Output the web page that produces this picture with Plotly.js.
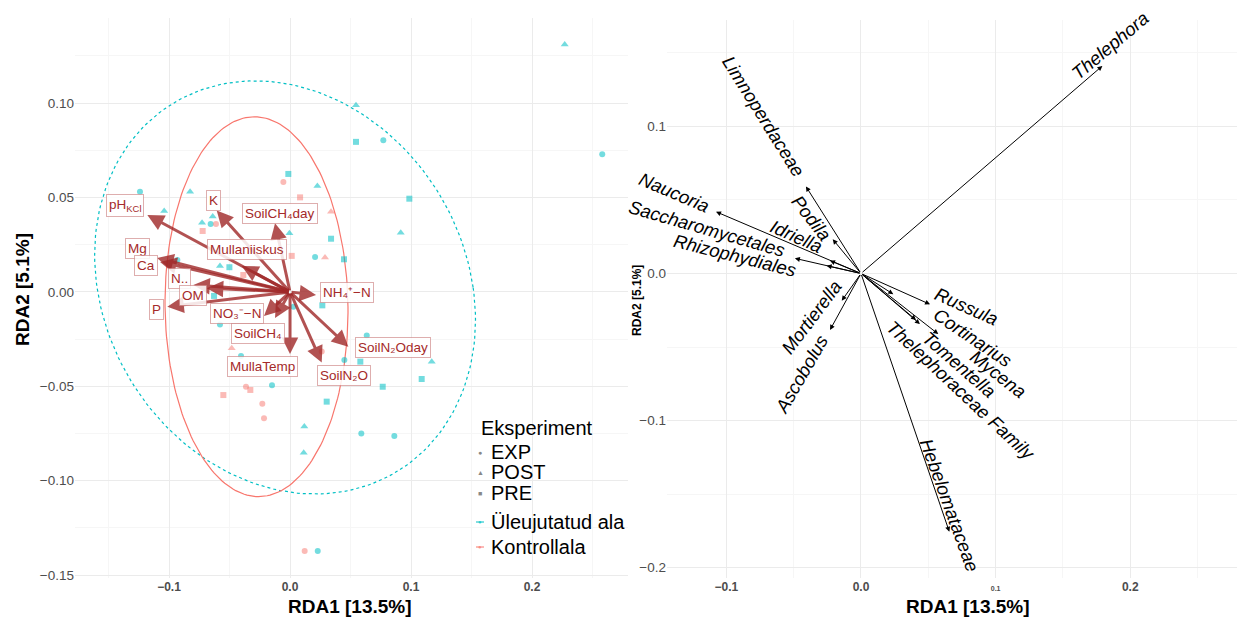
<!DOCTYPE html>
<html><head><meta charset="utf-8">
<script src="https://cdn.plot.ly/plotly-3.0.1.min.js"></script>
<style>html,body{margin:0;padding:0;background:#fff}#chart{width:1239px;height:621px}</style>
</head><body><div id="chart"></div>
<script>
// ---------------- Left panel: site scores ----------------
const siteRDA1 = [0.227,0.258,0.0545,0.0545,0.0771,-0.0014,0.0226,0.0986,-0.0005,0.0915,0.0339,0.0207,0.0446,0.0267,0.0028,-0.124,-0.0826,-0.104,-0.0639,-0.0727,-0.0656,-0.0579,-0.0501,-0.0628,0.0634,-0.0931,-0.0579,-0.0405,0.0449,0.0581,0.1171,0.1088,0.0766,-0.0149,0.0303,0.0118,0.0589,0.0862,0.0113,0.0229,
  -0.0055,0.0083,0.0339,0.0014,0.0289,-0.0612,-0.0722,-0.0386,-0.0482,0.0262,-0.0364,-0.0328,-0.0551,-0.0229,-0.0215,0.0121];
const siteRDA2 = [0.131,0.073,0.0989,0.0795,0.0803,0.0625,0.0561,0.0494,0.0311,0.0314,0.0282,0.0185,0.0173,-0.0071,-0.0078,0.0531,0.0531,0.0429,0.0399,0.0367,0.036,0.0138,0.0131,-0.0021,-0.0231,0.0169,-0.0173,-0.0339,-0.036,-0.0369,-0.0369,-0.0461,-0.0502,-0.0494,-0.0581,-0.0713,-0.075,-0.0763,-0.0851,-0.1372,
  0.0583,0.0501,0.0425,0.0191,0.0182,0.036,0.0323,0.009,-0.0298,-0.0316,-0.0502,-0.0519,-0.0546,-0.0592,-0.0669,-0.1372];
const siteArea = ['Ü','Ü','Ü','Ü','Ü','Ü','Ü','Ü','Ü','Ü','Ü','Ü','Ü','Ü','Ü','Ü','Ü','Ü','Ü','Ü','Ü','Ü','Ü','Ü','Ü','Ü','Ü','Ü','Ü','Ü','Ü','Ü','Ü','Ü','Ü','Ü','Ü','Ü','Ü','Ü',
  'K','K','K','K','K','K','K','K','K','K','K','K','K','K','K','K'];
const siteExp = ['POST','EXP','POST','PRE','EXP','PRE','POST','PRE','POST','POST','PRE','EXP','PRE','PRE','EXP','EXP','POST','POST','POST','POST','EXP','POST','PRE','PRE','EXP','EXP','EXP','EXP','EXP','PRE','POST','PRE','PRE','EXP','PRE','POST','EXP','EXP','POST','EXP',
  'EXP','PRE','POST','PRE','POST','EXP','PRE','PRE','POST','EXP','EXP','PRE','PRE','EXP','EXP','EXP'];

// ellipses (centre, half-width, shear, half-height)
const ellArea  = ['Ü','K'];
const ellCx    = [-0.0041,-0.0277];
const ellCy    = [0.0024,-0.0078];
const ellRx    = [0.1554,0.0756];
const ellShear = [-0.0248,-0.0017];
const ellRy    = [0.1094,0.1006];

// environmental vectors
const envNames = ['pH<sub>KCl</sub>','K','SoilCH₄day','Mullaniiskus','Mg','Ca','N..','OM','P','NO₃⁻−N','SoilCH₄','NH₄⁺−N','MullaTemp','SoilN₂O','SoilN₂Oday'];
const envRDA1 = [-0.1179,-0.0606,-0.0124,-0.0399,-0.1099,-0.1074,-0.0799,-0.0688,-0.1014,-0.0215,-0.0124,0.0215,0.0,0.0262,0.0482];
const envRDA2 = [0.0408,0.0431,0.0364,0.0138,0.018,0.0159,0.0037,0.002,-0.0078,-0.0127,-0.0138,-0.0016,-0.0328,-0.0374,-0.029];
const envLabX = [-0.1364,-0.0634,-0.0083,-0.0358,-0.1259,-0.119,-0.0915,-0.0804,-0.1102,-0.044,-0.0262,0.0469,-0.0229,0.0446,0.0854];
const envLabY = [0.0457,0.0484,0.0417,0.0226,0.0231,0.0138,0.0073,-0.002,-0.0095,-0.0113,-0.0219,-0.0004,-0.0396,-0.044,-0.0293];

// ---------------- Right panel: species vectors ----------------
const spNames = ['Thelephora','Limnoperdaceae','Podila','Naucoria','Idriella','Saccharomycetales','Rhizophydiales','Mortierella','Ascobolus','Russula','Cortinarius','Mycena','Tomentella','Thelephoraceae Family','Hebelomataceae'];
const spRDA1 = [0.1793,-0.0409,-0.021,-0.1077,-0.023,-0.0491,-0.0255,-0.0143,-0.023,0.0513,0.0438,0.0574,0.0409,0.024,0.0656];
const spRDA2 = [0.1412,0.0592,0.0233,0.042,0.0087,0.0103,0.0053,-0.0185,-0.0384,-0.021,-0.0344,-0.0412,-0.0316,-0.0141,-0.1756];
const spLabX = [0.185,-0.0721,-0.0371,-0.1389,-0.0478,-0.1148,-0.0936,-0.0371,-0.0441,0.0785,0.0828,0.1025,0.0728,0.0743,0.0661];
const spLabY = [0.1554,0.1071,0.0381,0.0548,0.025,0.0303,0.0119,-0.0296,-0.069,-0.0226,-0.0435,-0.0684,-0.0622,-0.0793,-0.1575];
const spAngle = [-40,58,52,23,24,16,14,-53,-60,24,34,38,41,43,70];

// ticks
const xTickVals = [-0.1,0,0.1,0.2];
const xTickText = ['−0.1','0.0','0.1','0.2'];
const xTickTextR = ['−0.1','0.0','<span style="font-size:7px">0.1</span>','0.2'];
const xMinor = [-0.15,-0.05,0.05,0.15,0.25];
const yTickValsL = [-0.15,-0.1,-0.05,0,0.05,0.1];
const yTickTextL = ['−0.15','−0.10','−0.05','0.00','0.05','0.10'];
const yMinorL = [-0.125,-0.075,-0.025,0.025,0.075,0.125];
const yTickValsR = [-0.2,-0.1,0,0.1];
const yTickTextR = ['−0.2','−0.1','0.0','0.1'];
const yMinorR = [-0.15,-0.05,0.05,0.15];

const legExp = ['EXP','POST','PRE'];
const legArea = ['Üleujutatud ala','Kontrollala'];

// ---------------- build ----------------
const W = 1239, H = 621;
const px = v => v / W, py = v => 1 - v / H;
const FONT = 'Liberation Sans, Arial, Helvetica, sans-serif';
const areaCol = {'Ü':'rgba(0,191,196,0.55)','K':'rgba(248,118,109,0.5)'};
const areaLine = {'Ü':'#00BFC4','K':'#F8766D'};
const sym = {'EXP':'circle','POST':'triangle-up','PRE':'square'};
const symSize = {'EXP':6,'POST':7,'PRE':6};

const traces = [];
ellArea.forEach((a,i)=>{
  const xs=[],ys=[];
  for(let k=0;k<=200;k++){const t=2*Math.PI*k/200;
    xs.push(ellCx[i]+ellRx[i]*Math.cos(t)+ellShear[i]*Math.sin(t));
    ys.push(ellCy[i]+ellRy[i]*Math.sin(t));}
  traces.push({x:xs,y:ys,xaxis:'x',yaxis:'y',mode:'lines',hoverinfo:'skip',
    line:{color:areaLine[a],width:1.2,dash:a==='Ü'?'dot':'solid'}});
});
['Ü','K'].forEach(a=>{
  ['EXP','POST','PRE'].forEach(e=>{
    const xs=[],ys=[];
    siteRDA1.forEach((v,i)=>{if(siteArea[i]===a&&siteExp[i]===e){xs.push(v);ys.push(siteRDA2[i]);}});
    traces.push({x:xs,y:ys,xaxis:'x',yaxis:'y',mode:'markers',
      marker:{symbol:sym[e],size:symSize[e],color:areaCol[a],line:{width:0}}});
  });
});
traces.push({x:[0],y:[0],xaxis:'x2',yaxis:'y2',mode:'markers',marker:{opacity:0},hoverinfo:'skip'});

const ann = [];
envNames.forEach((n,i)=>{
  ann.push({xref:'x',yref:'y',axref:'x',ayref:'y',x:envRDA1[i],y:envRDA2[i],ax:0,ay:0,text:'',
    showarrow:true,arrowhead:2,arrowsize:1.1,arrowwidth:3,arrowcolor:'rgba(160,40,40,0.8)',standoff:0});
});
envNames.forEach((n,i)=>{
  ann.push({xref:'x',yref:'y',x:envLabX[i],y:envLabY[i],xanchor:'center',yanchor:'middle',text:n,showarrow:false,
    font:{family:FONT,size:13.5,color:'#A52A2A'},bgcolor:'rgba(255,255,255,0.85)',
    bordercolor:'rgba(200,120,120,0.6)',borderwidth:1,borderpad:2});
});
spNames.forEach((n,i)=>{
  ann.push({xref:'x2',yref:'y2',axref:'x2',ayref:'y2',x:spRDA1[i],y:spRDA2[i],ax:0,ay:0,text:'',
    showarrow:true,arrowhead:2,arrowsize:1,arrowwidth:1,arrowcolor:'#000',standoff:0});
  ann.push({xref:'x2',yref:'y2',x:spLabX[i],y:spLabY[i],xanchor:'center',yanchor:'middle',text:'<i>'+n+'</i>',textangle:spAngle[i],
    showarrow:false,font:{family:FONT,size:18.5,color:'#000'}});
});
const P = (x,y,text,size,extra)=>Object.assign({xref:'paper',yref:'paper',x:px(x),y:py(y),xanchor:'center',yanchor:'middle',
  text:text,showarrow:false,font:{family:FONT,size:size,color:'#000'}},extra||{});
// axis titles
ann.push(P(350,606,'<b>RDA1 [13.5%]</b>',19));
ann.push(P(968,606,'<b>RDA1 [13.5%]</b>',19));
ann.push(P(22,290,'<b>RDA2 [5.1%]</b>',19,{textangle:-90}));
ann.push(P(637,301,'<b>RDA2 [5.1%]</b>',12,{textangle:-90}));
// legend
ann.push(P(479,428,'Eksperiment',20,{xanchor:'left'}));
const legY = [452,472,493,522,547];
const legSym = ['●','▲','■'];
legExp.forEach((t,i)=>{
  ann.push(P(480,legY[i],legSym[i],7,{font:{family:FONT,size:7,color:'#888'}}));
  ann.push(P(489,legY[i],t,20,{xanchor:'left'}));
});
const shapes=[];
legArea.forEach((t,i)=>{
  const c=i===0?'#00BFC4':'#F8766D';
  shapes.push({type:'line',xref:'paper',yref:'paper',x0:px(476),x1:px(484),y0:py(legY[3+i]),y1:py(legY[3+i]),line:{color:c,width:1}});
  ann.push(P(480,legY[3+i],'●',6,{font:{family:FONT,size:6,color:i===0?'rgba(0,191,196,0.7)':'rgba(248,118,109,0.7)'}}));
  ann.push(P(489,legY[3+i],t,20,{xanchor:'left'}));
});

const gridMaj='#EBEBEB', gridMin='#F6F6F6';
const axBase = {showline:false,zeroline:false,ticks:'',gridcolor:gridMaj,gridwidth:1,fixedrange:true,tickmode:'array'};
const layout = {
  width:W,height:H,margin:{l:0,r:0,t:0,b:0},paper_bgcolor:'#fff',plot_bgcolor:'#fff',showlegend:false,
  font:{family:FONT},
  xaxis:Object.assign({},axBase,{domain:[px(75),px(628)],range:[-0.1777,0.2793],tickvals:xTickVals,ticktext:xTickText,
    tickfont:{family:FONT,size:12,color:'#4D4D4D',weight:'bold'},minor:{tickmode:'array',tickvals:xMinor,showgrid:true,gridcolor:gridMin,ticks:''},anchor:'y'}),
  yaxis:Object.assign({},axBase,{domain:[py(578),py(18)],range:[-0.1515,0.1451],tickvals:yTickValsL,ticktext:yTickTextL,
    tickfont:{family:FONT,size:13.5,color:'#4D4D4D'},minor:{tickmode:'array',tickvals:yMinorL,showgrid:true,gridcolor:gridMin,ticks:''},anchor:'x'}),
  xaxis2:Object.assign({},axBase,{domain:[px(667),px(1237)],range:[-0.1441,0.2793],tickvals:xTickVals,ticktext:xTickTextR,
    tickfont:{family:FONT,size:12,color:'#4D4D4D',weight:'bold'},minor:{tickmode:'array',tickvals:xMinor,showgrid:true,gridcolor:gridMin,ticks:''},anchor:'y2'}),
  yaxis2:Object.assign({},axBase,{domain:[py(578),py(20)],range:[-0.2071,0.1724],tickvals:yTickValsR,ticktext:yTickTextR,
    tickfont:{family:FONT,size:13.5,color:'#4D4D4D'},minor:{tickmode:'array',tickvals:yMinorR,showgrid:true,gridcolor:gridMin,ticks:''},anchor:'x2'}),
  annotations:ann,shapes:shapes
};
Plotly.newPlot('chart',traces,layout,{staticPlot:true,displayModeBar:false});
</script></body></html>
